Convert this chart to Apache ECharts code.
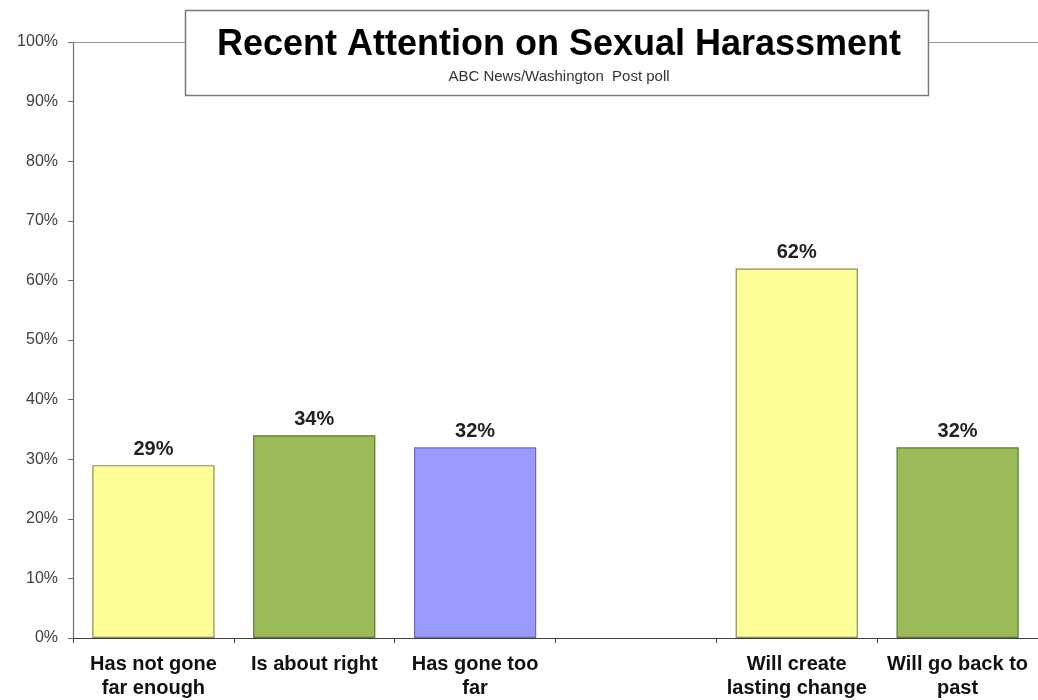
<!DOCTYPE html>
<html>
<head>
<meta charset="utf-8">
<script src="https://cdn.jsdelivr.net/npm/echarts@6/dist/echarts.min.js"></script>
<style>html,body{margin:0;padding:0;background:#fff}#c{width:1038px;height:700px}</style>
</head>
<body>
<div id="c"></div>
<script>
const categories = ['Has not gone\nfar enough', 'Is about right', 'Has gone too\nfar', '', 'Will create\nlasting change', 'Will go back to\npast'];
const values = [29, 34, 32, null, 62, 32];
const barColors = ['#FFFF99', '#9BBB59', '#9999FF', '#FFFFFF', '#FFFF99', '#9BBB59'];
const barBorders = ['#8C8C5A', '#5E7A30', '#6A6AC0', '#FFFFFF', '#8C8C5A', '#5E7A30'];
const yTicks = [0, 10, 20, 30, 40, 50, 60, 70, 80, 90, 100];
const titleText = 'Recent Attention on Sexual Harassment';
const subtitleText = 'ABC News/Washington  Post poll';

const chart = echarts.init(document.getElementById('c'), null, {renderer: 'canvas'});
chart.setOption({
  animation: false,
  backgroundColor: '#fff',
  title: {
    text: titleText,
    subtext: subtitleText,
    left: 554, top: 22, textAlign: 'center',
    itemGap: 6,
    z: 20,
    textStyle: {fontFamily: 'Liberation Sans', fontSize: 36, fontWeight: 'bold', color: '#000'},
    subtextStyle: {fontFamily: 'Liberation Sans', fontSize: 15, color: '#333'}
  },
  graphic: [{
    type: 'rect', z: 10,
    shape: {x: 185.5, y: 10.5, width: 743, height: 85},
    style: {fill: '#fff', stroke: '#7a7a7a', lineWidth: 1.5}
  }],
  grid: {left: 73, top: 42, width: 966, bottom: 62, containLabel: false},
  xAxis: [{
    type: 'category',
    data: categories,
    axisLine: {show: true, lineStyle: {color: '#404040', width: 1.2}},
    axisTick: {show: true, length: 5, lineStyle: {color: '#404040'}},
    axisLabel: {
      interval: 0, margin: 14, color: '#111',
      fontFamily: 'Liberation Sans', fontSize: 20, fontWeight: 'bold', lineHeight: 24
    }
  }, {
    type: 'category', position: 'top',
    data: categories,
    axisLine: {show: true, lineStyle: {color: '#999', width: 1.2}},
    axisTick: {show: false}, axisLabel: {show: false}
  }],
  yAxis: {
    type: 'value', min: 0, max: 100, interval: 10,
    axisLine: {show: true, lineStyle: {color: '#6a6a80', width: 1.2}},
    axisTick: {show: true, length: 5, lineStyle: {color: '#6a6a80'}},
    splitLine: {show: false},
    axisLabel: {
      formatter: v => yTicks.includes(v) ? v + '%' : '',
      color: '#404040', fontFamily: 'Liberation Sans', fontSize: 16, margin: 15
    }
  },
  series: [{
    type: 'bar',
    data: values.map((v, i) => v == null ? '-' : {
      value: v,
      itemStyle: {color: barColors[i], borderColor: barBorders[i], borderWidth: 1.2}
    }),
    barCategoryGap: '24%',
    label: {
      show: true, position: 'top', distance: 6,
      formatter: p => p.value + '%',
      color: '#222', fontFamily: 'Liberation Sans', fontSize: 20, fontWeight: 'bold'
    }
  }]
});
</script>
</body>
</html>
